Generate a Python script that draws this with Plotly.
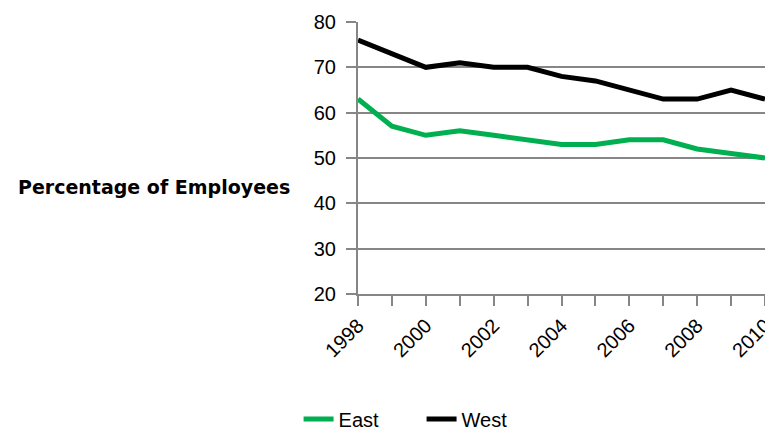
import plotly.graph_objects as go

years = list(range(1998, 2011))
east = [63, 57, 55, 56, 55, 54, 53, 53, 54, 54, 52, 51, 50]
west = [76, 73, 70, 71, 70, 70, 68, 67, 65, 63, 63, 65, 63]
y_ticks = [20, 30, 40, 50, 60, 70, 80]
x_tick_labels = [str(y) if (y - 1998) % 2 == 0 else "" for y in years]

FONT = "Liberation Sans, Arial, sans-serif"
GRID = "#868686"

fig = go.Figure()
fig.add_trace(go.Scatter(x=years, y=east, mode="lines", name="East",
                         line=dict(color="#00B050", width=5)))
fig.add_trace(go.Scatter(x=years, y=west, mode="lines", name="West",
                         line=dict(color="#000000", width=5)))

fig.update_layout(
    width=765, height=434,
    margin=dict(l=358, r=0, t=22, b=140, pad=0, autoexpand=False),
    paper_bgcolor="white", plot_bgcolor="white",
    font=dict(family=FONT, size=20, color="#000000"),
    showlegend=True,
    legend=dict(orientation="h", x=-0.146, xanchor="left", y=-0.46, yanchor="middle",
                entrywidth=78, font=dict(size=20), bgcolor="rgba(0,0,0,0)"),
    xaxis=dict(range=[1998, 2010], tickvals=years, ticktext=x_tick_labels,
               tickangle=-45, showgrid=False, showline=True, linecolor=GRID, linewidth=2,
               ticks="outside", ticklen=10, tickwidth=2, tickcolor=GRID,
               ticklabeloverflow="allow",
               tickfont=dict(size=20), zeroline=False),
    yaxis=dict(range=[20, 80], tickvals=y_ticks, showgrid=True, gridcolor=GRID, gridwidth=2,
               showline=True, linecolor=GRID, linewidth=2,
               ticks="outside", ticklen=10, tickwidth=2, tickcolor=GRID,
               ticklabelstandoff=6,
               tickfont=dict(size=20), zeroline=False),
    annotations=[dict(text="<b>Percentage of Employees</b>", xref="paper", yref="paper",
                      x=-0.501, y=0.393, xanchor="center", yanchor="middle",
                      showarrow=False, font=dict(size=19, family="DejaVu Sans"))],
)

fig.write_html(
    "out.html",
    config={"displayModeBar": False},
    post_script="document.body.style.margin='0';document.body.style.overflow='hidden';"
                "document.documentElement.style.overflow='hidden';",
)
